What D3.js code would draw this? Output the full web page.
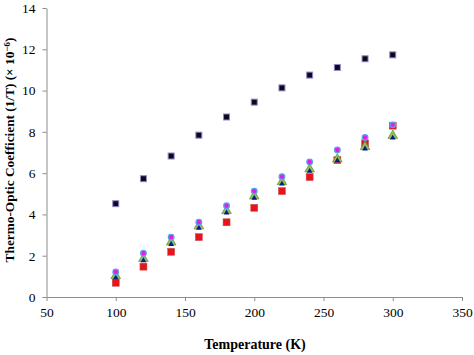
<!DOCTYPE html>
<html><head><meta charset="utf-8">
<script src="https://cdn.jsdelivr.net/npm/d3@7"></script>
<style>body{margin:0;background:#fff}svg{display:block}</style>
</head><body>
<svg id="c" width="474" height="355"></svg>
<script>
const temps = [100,120,140,160,180,200,220,240,260,280,300];
const seriesBlack = [4.52,5.73,6.83,7.84,8.72,9.44,10.13,10.75,11.12,11.54,11.73];
const seriesRed = [0.69,1.47,2.19,2.9,3.62,4.32,5.13,5.81,6.63,7.44,8.3];
const seriesGreen = [1.05,1.88,2.68,3.46,4.2,4.91,5.6,6.22,6.7,7.3,7.84];
const seriesBlue = [0.95,1.79,2.58,3.36,4.1,4.81,5.5,6.12,6.63,7.2,7.73];
const seriesCircle = [1.21,2.12,2.9,3.62,4.42,5.13,5.83,6.54,7.12,7.73,8.34];
const xTicks = [50,100,150,200,250,300,350];
const yTicks = [0,2,4,6,8,10,12,14];

const svg = d3.select("#c");
const x = d3.scaleLinear().domain([50,350]).range([46.5,462]);
const y = d3.scaleLinear().domain([0,14]).range([297,8]);
const font = "'Times New Roman','Liberation Serif',serif";

const xa = svg.append("g").attr("transform","translate(0,297)")
  .call(d3.axisBottom(x).tickValues(xTicks).tickSize(4).tickSizeOuter(0).tickPadding(6));
const ya = svg.append("g").attr("transform","translate(46.5,0)")
  .call(d3.axisLeft(y).tickValues(yTicks).tickSize(4).tickSizeOuter(0).tickPadding(7));
[xa,ya].forEach(a=>{
  a.select(".domain").attr("stroke","#8c8c8c");
  a.selectAll(".tick line").attr("stroke","#8c8c8c");
  a.selectAll("text").attr("fill","#000").style("font-family",font).style("font-size","13.5px");
});

svg.append("text").attr("x",255).attr("y",349).attr("text-anchor","middle")
  .style("font-family",font).style("font-size","14px").style("font-weight","bold")
  .text("Temperature (K)");
const yl = svg.append("text").attr("transform","translate(14,150) rotate(-90)").attr("text-anchor","middle")
  .style("font-family",font).style("font-size","13.3px").style("font-weight","bold");
yl.append("tspan").text("Thermo-Optic Coefficient (1/T) (× 10");
yl.append("tspan").attr("dy","-4").style("font-size","9px").text("−6");
yl.append("tspan").attr("dy","4").text(")");

const pts = s => temps.map((t,i)=>({t, v:s[i]}));

// red squares
svg.append("g").selectAll("rect").data(pts(seriesRed)).join("rect")
  .attr("x",d=>x(d.t)-3.5).attr("y",d=>y(d.v)-3.5).attr("width",7).attr("height",7)
  .attr("fill","#e8141b").attr("stroke","#c0504d").attr("stroke-width",0.5);
// green triangles
const tri = d3.symbol().type(d3.symbolTriangle);
svg.append("g").selectAll("path").data(pts(seriesGreen)).join("path")
  .attr("transform",d=>`translate(${x(d.t)},${y(d.v)+0.5})`)
  .attr("d",tri.size(40)()).attr("fill","#8dbf5a").attr("stroke","#6e9a3c").attr("stroke-width",0.8);
// blue triangles
svg.append("g").selectAll("path").data(pts(seriesBlue)).join("path")
  .attr("transform",d=>`translate(${x(d.t)},${y(d.v)+0.5})`)
  .attr("d",tri.size(14)()).attr("fill","#0a1a8c");
// circles
svg.append("g").selectAll("circle").data(pts(seriesCircle)).join("circle")
  .attr("cx",d=>x(d.t)).attr("cy",d=>y(d.v)).attr("r",2.8)
  .attr("fill","#e020e0").attr("stroke","#5aa0f0").attr("stroke-width",1.3);
// black squares
svg.append("g").selectAll("rect").data(pts(seriesBlack)).join("rect")
  .attr("x",d=>x(d.t)-3).attr("y",d=>y(d.v)-3).attr("width",6).attr("height",6)
  .attr("fill","#0a0a1e").attr("stroke","#9a88c8").attr("stroke-width",1);
</script>
</body></html>
